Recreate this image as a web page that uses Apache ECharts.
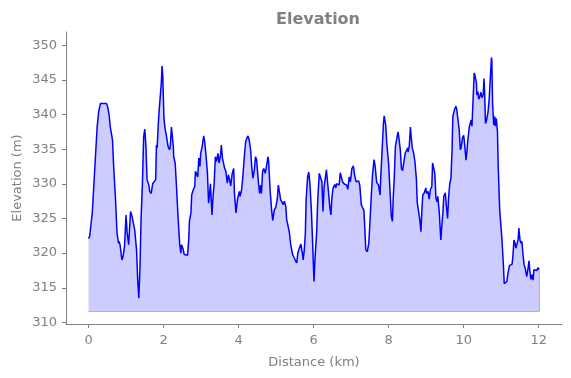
<!DOCTYPE html>
<html>
<head>
<meta charset="utf-8">
<script src="https://cdn.jsdelivr.net/npm/echarts@6/dist/echarts.min.js"></script>
<style>html,body{margin:0;padding:0;background:#fff}#c{width:571px;height:378px}</style>
</head>
<body>
<div id="c"></div>
<script>
const distanceKm = [0,0.03,0.10,0.14,0.19,0.23,0.27,0.32,0.36,0.48,0.51,0.55,0.58,0.61,0.64,0.67,0.72,0.76,0.80,0.81,0.84,0.89,0.92,0.96,1.00,1.03,1.07,1.12,1.16,1.19,1.23,1.25,1.28,1.31,1.34,1.37,1.40,1.44,1.47,1.50,1.53,1.56,1.59,1.61,1.63,1.67,1.71,1.76,1.79,1.81,1.83,1.86,1.89,1.94,1.96,1.98,2.01,2.04,2.08,2.12,2.16,2.18,2.21,2.22,2.26,2.27,2.31,2.35,2.39,2.43,2.46,2.48,2.52,2.55,2.59,2.64,2.67,2.69,2.73,2.75,2.79,2.83,2.85,2.88,2.91,2.94,2.97,2.99,3.03,3.07,3.10,3.13,3.17,3.20,3.22,3.25,3.29,3.32,3.35,3.38,3.41,3.45,3.48,3.52,3.54,3.57,3.60,3.63,3.66,3.70,3.73,3.76,3.79,3.83,3.87,3.89,3.93,3.97,4.02,4.04,4.08,4.11,4.13,4.16,4.19,4.22,4.25,4.28,4.32,4.35,4.38,4.42,4.45,4.48,4.51,4.53,4.56,4.59,4.61,4.64,4.67,4.71,4.75,4.78,4.80,4.84,4.88,4.91,4.95,4.99,5.03,5.06,5.09,5.12,5.15,5.19,5.22,5.26,5.28,5.32,5.35,5.39,5.44,5.47,5.51,5.55,5.58,5.62,5.66,5.70,5.72,5.75,5.78,5.80,5.84,5.87,5.90,5.94,5.97,6.01,6.04,6.08,6.11,6.15,6.18,6.22,6.25,6.28,6.31,6.34,6.37,6.40,6.43,6.46,6.49,6.52,6.56,6.59,6.61,6.64,6.68,6.71,6.74,6.77,6.81,6.84,6.88,6.91,6.95,6.98,7.02,7.06,7.09,7.13,7.16,7.20,7.23,7.27,7.31,7.34,7.37,7.39,7.43,7.47,7.50,7.54,7.57,7.61,7.64,7.68,7.73,7.77,7.79,7.83,7.86,7.88,7.92,7.95,8.00,8.03,8.07,8.10,8.12,8.15,8.18,8.21,8.25,8.28,8.31,8.34,8.37,8.41,8.44,8.48,8.51,8.52,8.55,8.58,8.60,8.63,8.66,8.70,8.74,8.76,8.79,8.83,8.86,8.89,8.91,8.95,8.99,9.01,9.05,9.08,9.11,9.15,9.17,9.20,9.23,9.26,9.29,9.31,9.35,9.39,9.41,9.45,9.47,9.51,9.54,9.57,9.60,9.63,9.66,9.69,9.71,9.75,9.79,9.81,9.86,9.88,9.91,9.93,9.97,10.00,10.03,10.06,10.09,10.11,10.15,10.18,10.20,10.22,10.25,10.28,10.31,10.34,10.35,10.38,10.40,10.43,10.46,10.49,10.52,10.54,10.56,10.58,10.61,10.65,10.68,10.71,10.74,10.75,10.77,10.80,10.83,10.84,10.87,10.90,10.92,10.96,10.99,11.02,11.06,11.08,11.12,11.15,11.18,11.22,11.25,11.29,11.31,11.34,11.37,11.39,11.42,11.45,11.47,11.50,11.53,11.55,11.58,11.61,11.64,11.68,11.71,11.74,11.76,11.79,11.82,11.85,11.87,11.90,11.95,11.98,12.01];
const elevationM = [322.1,322.4,325.8,329.6,334.4,338.2,340.4,341.6,341.5,341.6,341.1,339.9,338.2,338.0,336.3,332.5,327.7,322.9,321.4,321.7,321.2,319.0,319.5,321.0,325.5,322.9,321.2,326.0,325.3,325.3,323.4,323.4,320.5,316.2,313.5,317.6,324.8,330.6,336.8,337.9,335.4,330.6,330.7,329.8,328.9,328.6,330.0,329.8,330.6,335.6,335.2,338.7,341.1,344.5,347.0,345.5,339.5,338.0,336.8,335.4,334.9,335.4,338.2,338.3,335.4,333.9,333.0,329.1,324.8,321.4,320.0,321.2,320.6,319.8,319.8,319.7,321.9,324.6,325.8,328.4,329.1,329.6,331.8,331.6,331.0,333.7,332.5,334.4,335.4,336.9,335.9,334.2,331.5,327.2,328.1,330.0,325.5,328.2,330.1,333.9,333.2,334.4,333.0,334.2,335.6,333.7,333.5,332.2,331.8,330.1,331.3,330.6,329.7,331.5,332.2,328.6,325.8,327.7,328.9,328.2,329.1,330.8,331.0,334.4,336.1,336.6,336.9,336.4,334.9,332.5,330.8,332.0,333.9,333.5,333.6,330.1,328.6,329.8,328.6,331.8,332.2,331.5,332.7,333.9,333.3,329.1,326.2,324.7,326.2,326.6,327.7,329.8,329.9,327.7,327.6,327.0,327.5,326.7,324.9,324.7,323.1,321.2,319.8,319.6,319.0,318.6,320.0,320.7,321.3,320.0,319.0,320.4,322.9,327.7,331.0,331.7,330.1,326.2,321.9,315.9,319.5,322.9,327.7,331.5,331.0,330.3,326.0,329.6,329.8,332.0,331.8,328.6,326.7,325.5,328.2,329.4,329.9,329.4,330.0,329.8,329.8,331.6,331.8,330.3,330.0,330.1,329.8,329.2,331.0,330.3,332.2,332.6,331.3,330.3,330.5,330.4,329.8,327.0,326.5,326.2,322.9,320.5,320.2,321.4,324.3,328.6,331.3,333.5,332.5,330.2,329.8,328.4,331.0,335.4,338.7,339.8,338.5,335.9,332.8,329.6,325.3,324.6,327.7,331.0,335.4,336.3,337.5,336.3,334.9,332.2,331.9,331.8,334.4,334.6,335.2,334.6,335.5,338.2,336.8,335.1,334.6,333.2,330.6,327.4,327.4,324.8,323.1,326.7,328.4,328.7,329.4,328.6,328.9,327.8,329.1,329.6,333.0,333.2,331.5,327.9,327.4,328.2,325.8,321.9,323.4,326.2,328.2,328.7,326.7,325.0,328.2,330.1,330.8,334.9,339.7,340.6,341.2,340.9,340.7,337.8,334.9,335.2,336.7,337.0,335.4,333.4,334.9,336.3,338.2,338.4,339.2,338.3,338.4,346.0,345.4,344.5,342.8,343.3,342.2,342.6,343.2,342.4,342.9,345.2,342.9,338.7,339.2,340.4,342.3,345.4,348.2,347.8,341.6,338.5,339.7,338.3,339.4,337.5,332.5,326.2,326.0,321.9,318.1,315.6,315.7,315.9,317.1,318.2,318.3,318.4,319.5,321.9,321.4,320.7,320.5,321.9,323.6,321.9,321.4,321.7,319.8,318.3,317.8,316.6,317.6,318.9,317.6,316.2,316.9,316.1,317.6,317.6,317.5,317.9,317.6];
const fillBaseM = 311.6;
const xTicks = [0, 2, 4, 6, 8, 10, 12];
const yTicks = [310, 315, 320, 325, 330, 335, 340, 345, 350];
const titleText = 'Elevation';
const xName = 'Distance (km)';
const yName = 'Elevation (m)';

const points = distanceKm.map((d, i) => [d, elevationM[i]]);
const gray = '#808080';
const font = 'DejaVu Sans';

const chart = echarts.init(document.getElementById('c'), null, {renderer: 'canvas'});
chart.setOption({
  animation: false,
  backgroundColor: '#ffffff',
  title: {
    text: titleText, left: 313, top: 7, textAlign: 'center',
    textStyle: {color: gray, fontFamily: font, fontWeight: 'bold', fontSize: 16}
  },
  grid: {left: 66, right: 9, top: 32, bottom: 54, containLabel: false},
  xAxis: {
    type: 'value', min: -0.6, max: 12.62,
    name: xName, nameLocation: 'middle', nameGap: 32,
    nameTextStyle: {color: gray, fontFamily: font, fontSize: 13},
    axisLine: {show: true, onZero: false, lineStyle: {color: gray, width: 1}},
    axisTick: {show: true, inside: false, length: 4, lineStyle: {color: gray}, customValues: xTicks},
    axisLabel: {color: gray, fontFamily: font, fontSize: 13, margin: 10, customValues: xTicks},
    splitLine: {show: false}
  },
  yAxis: {
    type: 'value', min: 309.77, max: 351.9,
    name: yName, nameLocation: 'middle', nameGap: 42, nameMoveOverlap: false,
    nameTextStyle: {color: gray, fontFamily: font, fontSize: 13},
    axisLine: {show: true, onZero: false, lineStyle: {color: gray, width: 1}},
    axisTick: {show: true, inside: false, length: 4, lineStyle: {color: gray}, customValues: yTicks},
    axisLabel: {color: gray, fontFamily: font, fontSize: 13, margin: 9, customValues: yTicks},
    splitLine: {show: false}
  },
  series: [{
    type: 'line', data: points, showSymbol: false, smooth: false,
    lineStyle: {color: '#0000ff', width: 1.5},
    areaStyle: {color: '#ccccff', opacity: 1, origin: fillBaseM},
    z: 3,
    markLine: {
      silent: true, symbol: 'none', label: {show: false},
      lineStyle: {color: '#aaaaff', width: 1, type: 'solid'},
      data: [
        [{coord: [distanceKm[0], fillBaseM]}, {coord: [distanceKm[distanceKm.length - 1], fillBaseM]}],
        [{coord: [distanceKm[distanceKm.length - 1], fillBaseM]}, {coord: [distanceKm[distanceKm.length - 1], elevationM[elevationM.length - 1]]}]
      ]
    }
  }]
});
</script>
</body>
</html>
